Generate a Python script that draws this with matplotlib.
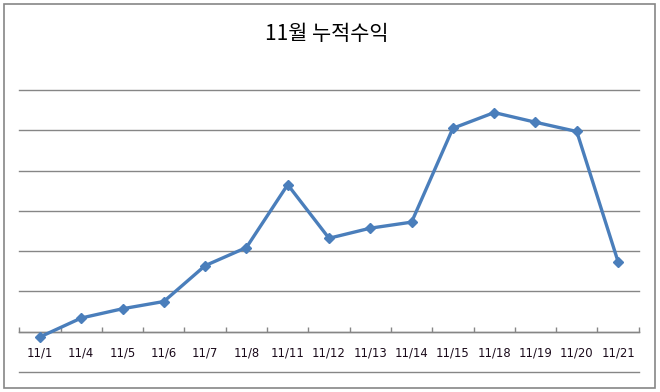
import matplotlib
matplotlib.use("Agg")
import matplotlib.pyplot as plt
from matplotlib.patches import Rectangle

# 11월 누적수익 (단위 임의, 눈금 간격 100)
dates = ["11/1", "11/4", "11/5", "11/6", "11/7", "11/8", "11/11", "11/12",
         "11/13", "11/14", "11/15", "11/18", "11/19", "11/20", "11/21"]
profit = [-13, 34, 57, 75, 164, 209, 365, 232, 257, 272, 505, 544, 520, 497, 174]
grid_levels = [-100, 0, 100, 200, 300, 400, 500, 600]

plt.rcParams['font.family'] = ['DejaVu Sans']
grey = "#868686"

fig = plt.figure(figsize=(6.6, 3.92), dpi=100)
fig.patches.append(Rectangle((3.5 / 660, 1 - 388 / 392), 651 / 660, 384 / 392,
                             transform=fig.transFigure, fill=False,
                             edgecolor=grey, linewidth=1.2))
fig.text(327 / 660, 1 - 34 / 392, "11월 누적수익", ha="center", va="center",
         fontsize=15, family=["Noto Sans CJK KR", "DejaVu Sans"], color="black")

ax = fig.add_axes([19.3 / 660, 20 / 392, 619.4 / 660, 282 / 392])
x = list(range(len(dates)))
ax.plot(x, profit, color="#4a7ebb", linewidth=2.4, marker="D", markersize=5,
        clip_on=False, zorder=3)

ax.set_xlim(-0.5, len(dates) - 0.5)
ax.set_ylim(grid_levels[0], grid_levels[-1])
ax.set_yticks(grid_levels)
ax.yaxis.grid(True, color=grey, linewidth=1)
ax.tick_params(axis="y", length=0, labelleft=False)
for gl in ax.get_ygridlines():
    gl.set_clip_on(False)

for s in ["top", "left", "right"]:
    ax.spines[s].set_visible(False)
ax.spines["bottom"].set_position(("data", 0))
ax.spines["bottom"].set_color(grey)
ax.spines["bottom"].set_linewidth(1)

ax.set_xticks(x)
ax.set_xticklabels(dates)
ax.set_xticks([i - 0.5 for i in range(len(dates) + 1)], minor=True)
ax.tick_params(axis="x", which="major", length=0, pad=11, labelsize=8.4,
               labelcolor="#1a0a1a")
ax.tick_params(axis="x", which="minor", direction="in", length=3.5,
               color=grey, width=1)
ax.set_axisbelow(True)

fig.savefig("out.png", dpi=100)
